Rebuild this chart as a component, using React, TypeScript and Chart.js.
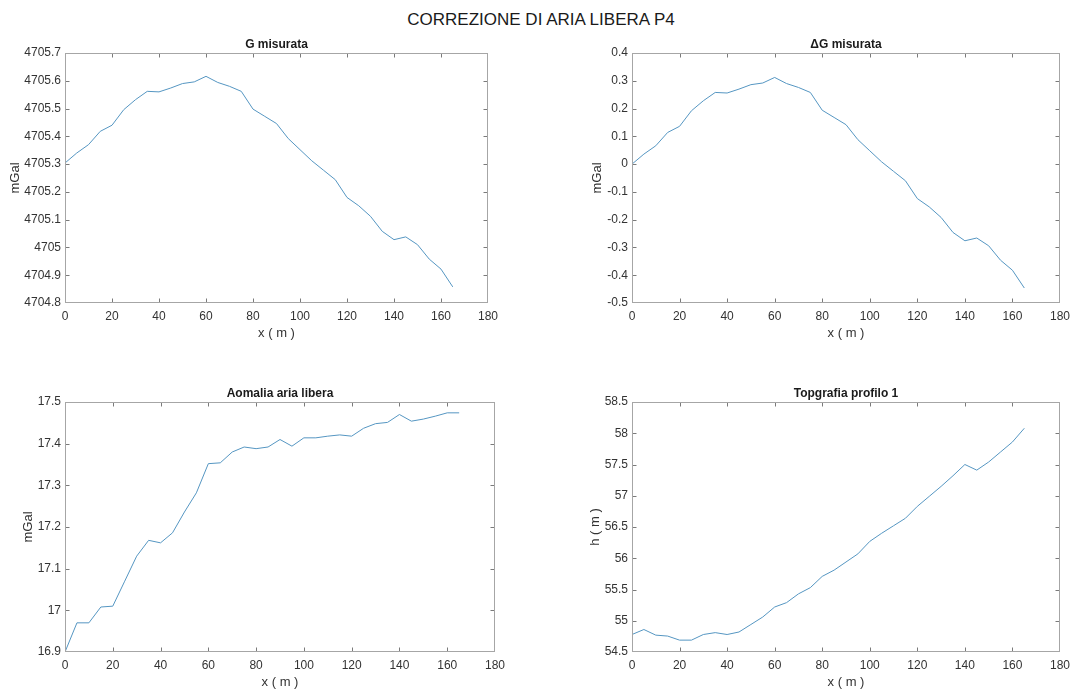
import { useEffect, useRef } from "react";
import { Chart, registerables } from "chart.js";

Chart.register(...registerables);

const FONT = "'Liberation Sans', Arial, Helvetica, sans-serif";

// Station positions along the profile (m)
const distance = [
  0, 5, 10, 15, 20, 25, 30, 35, 40, 45, 50, 55, 60, 65, 70, 75, 80, 85, 90, 95,
  100, 105, 110, 115, 120, 125, 130, 135, 140, 145, 150, 155, 160, 165,
];

// Measured gravity (mGal)
const gMeasured = [
  4705.304, 4705.34, 4705.37, 4705.418, 4705.44, 4705.496, 4705.532, 4705.562,
  4705.56, 4705.574, 4705.59, 4705.596, 4705.616, 4705.594, 4705.58, 4705.562,
  4705.498, 4705.472, 4705.446, 4705.392, 4705.352, 4705.312, 4705.278,
  4705.244, 4705.18, 4705.15, 4705.112, 4705.058, 4705.028, 4705.038, 4705.01,
  4704.958, 4704.922, 4704.858,
];

// Gravity difference relative to the first station (mGal)
const deltaG = [
  0, 0.036, 0.066, 0.114, 0.136, 0.192, 0.228, 0.258, 0.256, 0.27, 0.286,
  0.292, 0.312, 0.29, 0.276, 0.258, 0.194, 0.168, 0.142, 0.088, 0.048, 0.008,
  -0.026, -0.06, -0.124, -0.154, -0.192, -0.246, -0.276, -0.266, -0.294,
  -0.346, -0.382, -0.446,
];

// Free-air anomaly (mGal)
const freeAirAnomaly = [
  16.9, 16.97, 16.97, 17.008, 17.01, 17.07, 17.13, 17.168, 17.162, 17.186,
  17.236, 17.282, 17.352, 17.354, 17.38, 17.392, 17.388, 17.392, 17.41,
  17.394, 17.414, 17.414, 17.418, 17.421, 17.418, 17.437, 17.448, 17.451,
  17.47, 17.454, 17.459, 17.466, 17.474, 17.474,
];

// Ground elevation (m)
const elevation = [
  54.78, 54.86, 54.77, 54.755, 54.69, 54.69, 54.78, 54.81, 54.78, 54.82,
  54.94, 55.06, 55.22, 55.29, 55.43, 55.53, 55.71, 55.81, 55.94, 56.07,
  56.27, 56.4, 56.52, 56.64, 56.83, 56.99, 57.15, 57.32, 57.5, 57.41, 57.54,
  57.7, 57.86, 58.08,
];

const xLabel = "x ( m )";

type Panel = {
  title: string;
  yLabel: string;
  values: number[];
  yMin: number;
  yMax: number;
  yStep: number;
  box: { x: number; y: number; w: number; h: number };
  area: { l: number; t: number; r: number; b: number };
  yLabelX: number;
};

const panels: Panel[] = [
  {
    title: "G misurata",
    yLabel: "mGal",
    values: gMeasured,
    yMin: 4704.8,
    yMax: 4705.7,
    yStep: 0.1,
    box: { x: 0, y: 28, w: 538, h: 332 },
    area: { l: 65, t: 53, r: 488, b: 303 },
    yLabelX: 15,
  },
  {
    title: "\u0394G misurata",
    yLabel: "mGal",
    values: deltaG,
    yMin: -0.5,
    yMax: 0.4,
    yStep: 0.1,
    box: { x: 538, y: 28, w: 538, h: 332 },
    area: { l: 632, t: 53, r: 1061, b: 303 },
    yLabelX: 597,
  },
  {
    title: "Aomalia aria libera",
    yLabel: "mGal",
    values: freeAirAnomaly,
    yMin: 16.9,
    yMax: 17.5,
    yStep: 0.1,
    box: { x: 0, y: 360, w: 538, h: 333 },
    area: { l: 65, t: 402, r: 495, b: 652 },
    yLabelX: 28,
  },
  {
    title: "Topgrafia profilo 1",
    yLabel: "h ( m )",
    values: elevation,
    yMin: 54.5,
    yMax: 58.5,
    yStep: 0.5,
    box: { x: 538, y: 360, w: 538, h: 333 },
    area: { l: 632, t: 402, r: 1061, b: 652 },
    yLabelX: 595,
  },
];

const fmt = (v: number | string) => String(parseFloat(Number(v).toFixed(3)));

function SubPlot({ panel }: { panel: Panel }) {
  const ref = useRef<HTMLCanvasElement | null>(null);

  useEffect(() => {
    const canvas = ref.current;
    if (!canvas) return;
    const { box, area } = panel;

    // Axes box, inward tick marks on all four sides, titles and labels
    const frame = {
      id: "frame",
      afterDraw(chart: any) {
        const { ctx, chartArea: a, scales } = chart;
        const L = Math.round(a.left) + 0.5;
        const R = Math.round(a.right) - 0.5;
        const T = Math.round(a.top) + 0.5;
        const B = Math.round(a.bottom) - 0.5;
        const tl = 4;
        ctx.save();
        ctx.lineWidth = 1;
        ctx.strokeStyle = "#7a7a7a";
        ctx.beginPath();
        for (const t of scales.x.ticks) {
          const px = Math.round(scales.x.getPixelForValue(t.value)) + 0.5;
          if (px <= L + 1 || px >= R - 1) continue;
          ctx.moveTo(px, B);
          ctx.lineTo(px, B - tl);
          ctx.moveTo(px, T);
          ctx.lineTo(px, T + tl);
        }
        for (const t of scales.y.ticks) {
          const py = Math.round(scales.y.getPixelForValue(t.value)) + 0.5;
          if (py <= T + 1 || py >= B - 1) continue;
          ctx.moveTo(L, py);
          ctx.lineTo(L + tl, py);
          ctx.moveTo(R, py);
          ctx.lineTo(R - tl, py);
        }
        ctx.stroke();
        ctx.strokeStyle = "#a6a6a6";
        ctx.strokeRect(L, T, R - L, B - T);

        ctx.fillStyle = "#1a1a1a";
        ctx.textAlign = "center";
        ctx.textBaseline = "middle";
        ctx.font = `bold 12px ${FONT}`;
        ctx.fillText(panel.title, (a.left + a.right) / 2, a.top - 8.5);

        ctx.fillStyle = "#333333";
        ctx.font = `13px ${FONT}`;
        ctx.fillText(xLabel, (a.left + a.right) / 2, a.bottom + 30);

        ctx.translate(panel.yLabelX - box.x, (a.top + a.bottom) / 2);
        ctx.rotate(-Math.PI / 2);
        ctx.fillText(panel.yLabel, 0, 0);
        ctx.restore();
      },
    };

    const chart = new Chart(canvas, {
      type: "line",
      data: {
        datasets: [
          {
            data: distance.map((x, i) => ({ x, y: panel.values[i] })),
            borderColor: "#5596c2",
            borderWidth: 1,
            pointRadius: 0,
            tension: 0,
            fill: false,
          },
        ],
      },
      options: {
        responsive: false,
        animation: false,
        devicePixelRatio: 1,
        layout: {
          padding: {
            left: 0,
            top: area.t - box.y,
            right: box.x + box.w - area.r,
            bottom: 0,
          },
        },
        plugins: {
          legend: { display: false },
          tooltip: { enabled: false },
          title: { display: false },
        },
        scales: {
          x: {
            type: "linear",
            min: 0,
            max: 180,
            grid: { display: false, drawTicks: false },
            border: { display: false },
            ticks: {
              stepSize: 20,
              padding: 6,
              color: "#333333",
              font: { family: FONT, size: 12 },
              maxRotation: 0,
              callback: (v: any) => fmt(v),
            },
            afterFit: (s: any) => {
              s.height = box.y + box.h - area.b;
            },
          },
          y: {
            type: "linear",
            min: panel.yMin,
            max: panel.yMax,
            grid: { display: false, drawTicks: false },
            border: { display: false },
            ticks: {
              stepSize: panel.yStep,
              padding: 4,
              color: "#333333",
              font: { family: FONT, size: 12 },
              callback: (v: any) => fmt(v),
            },
            afterFit: (s: any) => {
              s.width = area.l - box.x;
            },
          },
        },
      },
      plugins: [frame],
    });

    return () => chart.destroy();
  }, [panel]);

  return (
    <canvas
      ref={ref}
      width={panel.box.w}
      height={panel.box.h}
      style={{
        position: "absolute",
        left: panel.box.x,
        top: panel.box.y,
        width: panel.box.w,
        height: panel.box.h,
      }}
    />
  );
}

export default function App() {
  return (
    <div
      style={{
        position: "fixed",
        left: 0,
        top: 0,
        width: 1076,
        height: 693,
        background: "#ffffff",
        overflow: "hidden",
      }}
    >
      <div
        style={{
          position: "absolute",
          left: 3,
          top: 10,
          width: 1076,
          textAlign: "center",
          fontFamily: FONT,
          fontSize: 17,
          lineHeight: "20px",
          color: "#1a1a1a",
        }}
      >
        CORREZIONE DI ARIA LIBERA P4
      </div>
      {panels.map((p) => (
        <SubPlot key={p.title} panel={p} />
      ))}
    </div>
  );
}
